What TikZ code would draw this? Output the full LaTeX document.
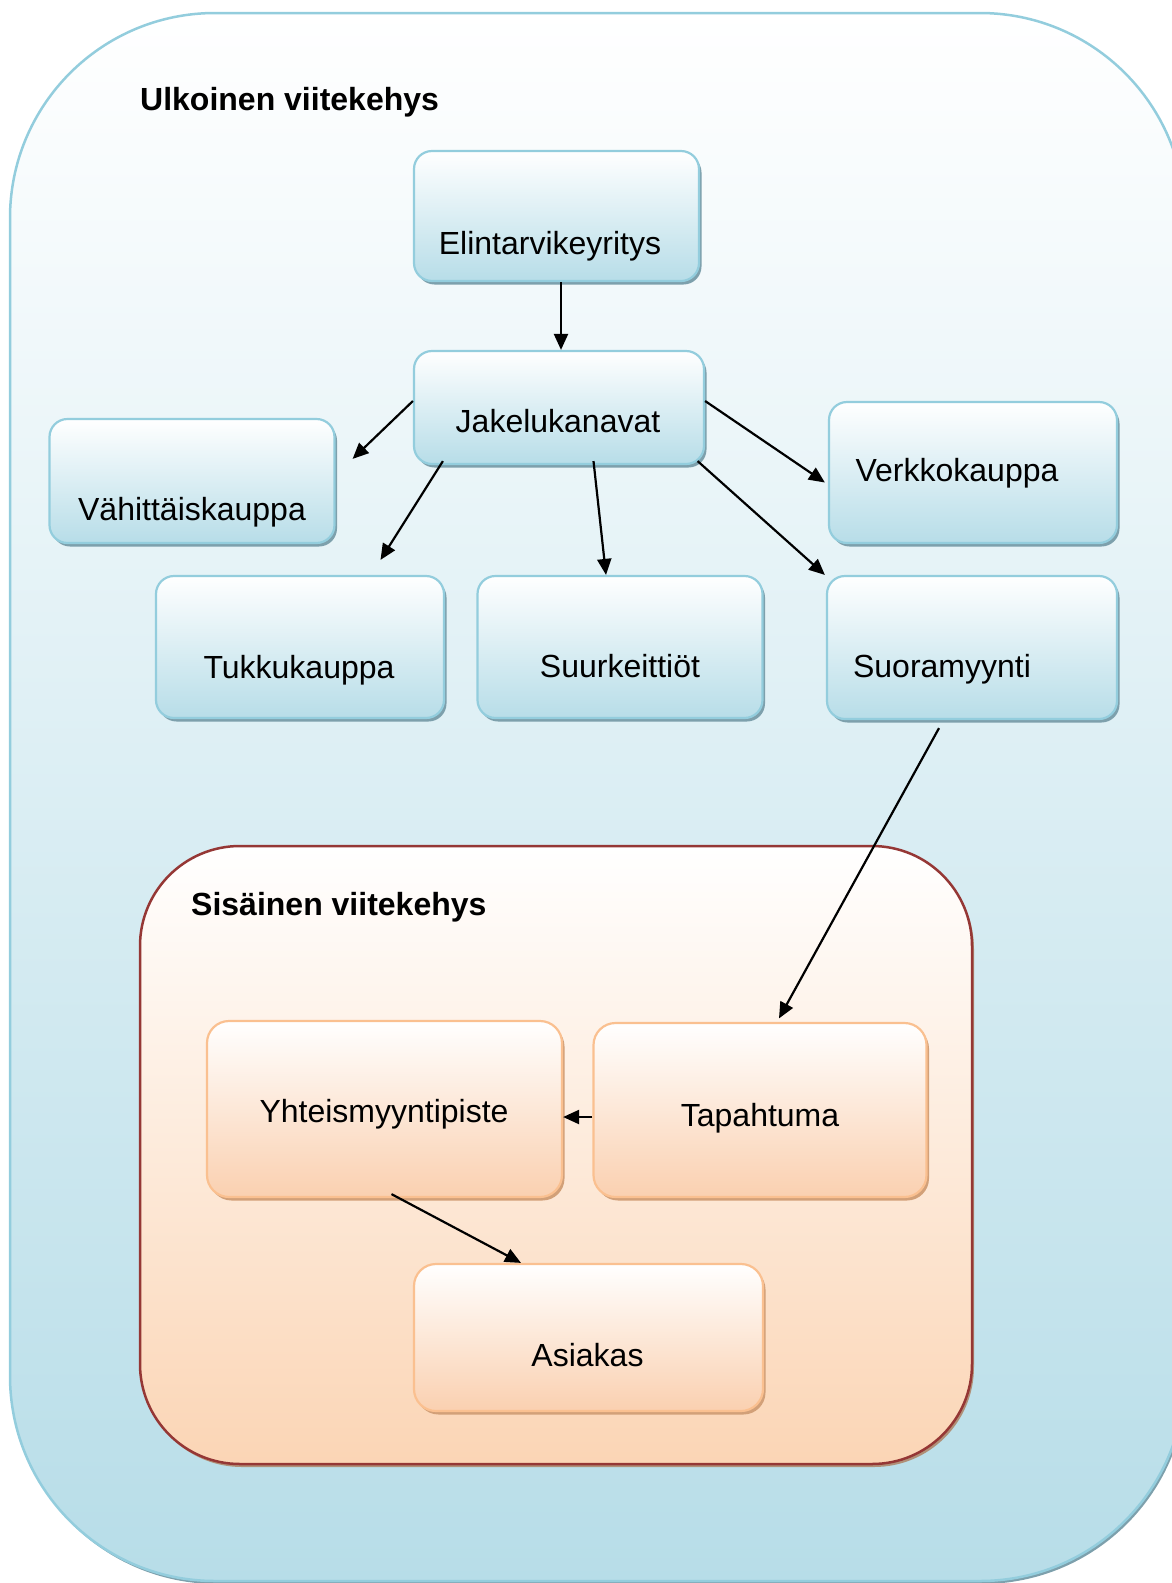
\documentclass[tikz,border=0pt]{standalone}
\usepackage{fontspec}
\setmainfont{Liberation Sans}
\usetikzlibrary{calc,shadows,arrows.meta}
\definecolor{blueend}{RGB}{183,221,232}
\definecolor{blueline}{RGB}{147,205,221}
\definecolor{blueshadow}{RGB}{125,160,172}
\definecolor{orangeend}{RGB}{250,208,176}
\definecolor{orangeline}{RGB}{250,192,144}
\definecolor{orangeshadow}{RGB}{210,160,120}
\definecolor{innerend}{RGB}{251,213,181}
\definecolor{innerline}{RGB}{149,55,53}
\definecolor{innershadow}{RGB}{176,144,120}
\tikzset{
  txt/.style={font=\fontsize{32}{38}\selectfont, inner sep=0pt, anchor=base},
  ttl/.style={font=\fontsize{32}{38}\selectfont\bfseries, inner sep=0pt, anchor=base west},
  bluebox/.style={draw=blueline, line width=2.2pt, rounded corners=18pt,
    top color=white, bottom color=blueend, inner sep=0pt,
    drop shadow={shadow xshift=2.5pt, shadow yshift=-3.5pt, fill=blueshadow, opacity=1}},
  orangebox/.style={draw=orangeline, line width=2.2pt, rounded corners=22pt,
    top color=white, bottom color=orangeend, inner sep=0pt,
    drop shadow={shadow xshift=2.5pt, shadow yshift=-3.5pt, fill=orangeshadow, opacity=1}},
  arr/.style={line width=2.2pt, -{Triangle[length=16pt,width=14pt]}},
}
\begin{document}
\begin{tikzpicture}[x=1pt,y=-1pt]
\useasboundingbox (0,0) rectangle (1171,1583);
% outer frame
\path[draw=blueline, line width=2.5pt, top color=white, bottom color=blueend,
  rounded corners=205pt,
  drop shadow={shadow xshift=2pt, shadow yshift=-3pt, fill=blueshadow, opacity=1}]
  (10,13) rectangle (1185,1581);
\node[ttl] (ulk) at (140,110) {Ulkoinen viitekehys};
% inner frame
\path[draw=innerline, line width=2.5pt, top color=white, bottom color=innerend,
  rounded corners=100pt,
  drop shadow={shadow xshift=2pt, shadow yshift=-3pt, fill=innershadow, opacity=1}]
  (140,846) rectangle (972,1464);
\node[ttl] (sis) at (191,915) {Sisäinen viitekehys};
% boxes
\node[bluebox, minimum width=285pt, minimum height=130pt] (elin) at (556.5,216) {};
\node[bluebox, minimum width=290pt, minimum height=113pt] (jak) at (559,407.5) {};
\node[bluebox, minimum width=285pt, minimum height=124pt] (vah) at (192,481) {};
\node[bluebox, minimum width=288pt, minimum height=141pt] (verk) at (973,472.5) {};
\node[bluebox, minimum width=288pt, minimum height=142pt] (tuk) at (300,647) {};
\node[bluebox, minimum width=285pt, minimum height=142pt] (suur) at (620,647) {};
\node[bluebox, minimum width=290pt, minimum height=143pt] (suora) at (972,647.5) {};
\node[orangebox, minimum width=355pt, minimum height=176pt] (yht) at (384.5,1109) {};
\node[orangebox, minimum width=333pt, minimum height=174pt] (tap) at (760,1110) {};
\node[orangebox, minimum width=349pt, minimum height=147pt] (asi) at (588.5,1337.5) {};
% texts
\node[txt] (telin) at (550,254) {Elintarvikeyritys};
\node[txt] (tjak) at (558,432.5) {Jakelukanavat};
\node[txt] (tvah) at (192,520) {Vähittäiskauppa};
\node[txt] (tverk) at (957,481.5) {Verkkokauppa};
\node[txt] (ttuk) at (299,678) {Tukkukauppa};
\node[txt] (tsuur) at (620,677) {Suurkeittiöt};
\node[txt] (tsuora) at (942,677) {Suoramyynti};
\node[txt] (tyht) at (384,1122) {Yhteismyyntipiste};
\node[txt] (ttap) at (760,1126) {Tapahtuma};
\node[txt] (tasi) at (587.5,1366) {Asiakas};
% connectors
\draw[arr] ($(elin.south)+(4.5,0)$) -- ($(jak.north)+(2,0)$);
\draw[arr] ($(jak.west)+(0,-6.5)$) -- ($(vah.north east)+(17,41)$);
\draw[arr] ($(jak.south west)+(30,-4)$) -- ($(tuk.north)+(80.5,-15)$);
\draw[arr] ($(jak.south)+(34.5,-4)$) -- ($(suur.north)+(-14,0)$);
\draw[arr] ($(jak.east)+(0,-6.5)$) -- ($(verk.west)+(-3,10)$);
\draw[arr] ($(jak.south east)+(-7.5,-4)$) -- ($(suora.north west)+(-1,0)$);
\draw[arr] ($(suora.south)+(-33,8)$) -- ($(tap.north)+(19,-3.5)$);
\draw[arr] ($(tap.west)+(0,7)$) -- ($(yht.east)+(0,8)$);
\draw[arr] ($(yht.south)+(7,-4)$) -- ($(asi.north)+(-67.5,0)$);
\end{tikzpicture}
\end{document}
